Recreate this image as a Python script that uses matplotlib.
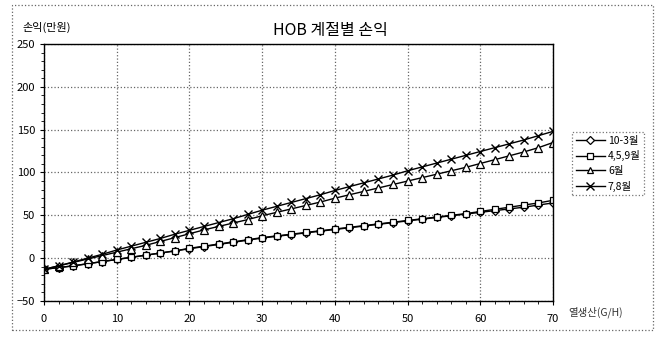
import matplotlib
matplotlib.use("Agg")
import matplotlib.pyplot as plt
from matplotlib.patches import Rectangle

plt.rcParams['font.family'] = ['Noto Sans CJK KR', 'DejaVu Sans']

x = list(range(0, 71, 2))
s_10_3 = [-13, -11, -9, -6.5, -4, -1.5, 1, 3.5, 6, 8.5, 11, 13.5, 16, 18.5, 21, 23.5,
          25.5, 27.5, 29.5, 31.5, 33.5, 35.5, 37.5, 39.5, 41.5, 43.5, 45.5, 47.5, 49.5,
          51.5, 53.5, 55.5, 57.5, 59.5, 62, 64.5]
s_459 = [-13, -11, -9, -6.5, -4, -1.5, 1, 3.5, 6, 8.5, 11.5, 14, 16.5, 19, 21.5, 24,
         26, 28, 30, 32, 34, 36, 38, 40, 42, 44, 46, 48, 50, 52, 54.5, 57, 59.5, 62, 64.5, 67.5]
s_6 = [-13, -9, -5, -1, 3, 7, 11, 15, 19.5, 24, 28.5, 33, 37, 41, 45, 49.5, 53.5, 57.5,
       61.5, 65.5, 70, 74, 78, 82, 86, 90, 94, 98, 102, 106, 110.5, 115, 119.5, 124, 129, 135]
s_78 = [-13, -9, -4.5, 0, 4.5, 9.5, 14, 18.5, 23, 28, 32.5, 37, 41.5, 46, 51, 56, 60.5,
        65, 69.5, 74, 79, 83.5, 88, 92.5, 97, 102, 106.5, 111, 115.5, 120, 124.5, 129,
        133.5, 138, 143, 148]

series = [("10-3월", s_10_3, "D", 4.5),
          ("4,5,9월", s_459, "s", 5),
          ("6월", s_6, "^", 5.5),
          ("7,8월", s_78, "x", 6)]

yticks = [-50, 0, 50, 100, 150, 200, 250]
xticks = [0, 10, 20, 30, 40, 50, 60, 70]

fig = plt.figure(figsize=(6.6, 3.38), dpi=100)
W, H = 660, 338
ax = fig.add_axes([44 / W, 1 - 301 / H, (553 - 44) / W, (301 - 44) / H])

for name, ys, m, ms in series:
    if m == "x":
        ax.plot(x, ys, color="black", lw=1.0, marker=m, ms=ms, mew=1.0, mec="black", label=name)
    else:
        ax.plot(x, ys, color="black", lw=1.0, marker=m, ms=ms, mfc="white", mec="black",
                mew=0.9, label=name)

ax.set_xlim(0, 70)
ax.set_ylim(-50, 250)
ax.set_xticks(xticks)
ax.set_yticks(yticks)
ax.set_xticks(x, minor=True)
ax.set_yticks(range(-50, 251, 10), minor=True)
ax.tick_params(axis="both", which="major", labelsize=8, length=3, direction="out", width=0.8)
ax.tick_params(axis="both", which="minor", length=2, direction="out", width=0.6)
ax.tick_params(axis="x", pad=6)
ax.grid(True, which="major", color="#666666", linestyle=":", lw=0.9)
for sp in ax.spines.values():
    sp.set_linewidth(1.0)
    sp.set_color("black")

fig.text(330 / W, 1 - 30 / H, "HOB 계절별 손익", ha="center", va="center", fontsize=11.5)
fig.text(22 / W, 1 - 27 / H, "손익(만원)", ha="left", va="center", fontsize=8)
fig.text(568 / W, 1 - 312 / H, "열생산(G/H)", ha="left", va="center", fontsize=7.5, color="#333333")

leg = ax.legend(loc="upper left", bbox_to_anchor=(572 / W, 1 - 132 / H), bbox_transform=fig.transFigure,
                fontsize=7.5, frameon=True, fancybox=False, edgecolor="#555555",
                handlelength=2.8, borderpad=0.35, labelspacing=0.45, handletextpad=0.3,
                borderaxespad=0, markerscale=0.85)
leg.get_frame().set_linestyle(":")
leg.get_frame().set_linewidth(0.9)

fig.patches.append(Rectangle((12 / W, 1 - 330 / H), (653 - 12) / W, (330 - 5) / H,
                             transform=fig.transFigure, fill=False, ec="#666666", lw=0.9, ls=":"))

fig.savefig("out.png", dpi=100, facecolor="white")
